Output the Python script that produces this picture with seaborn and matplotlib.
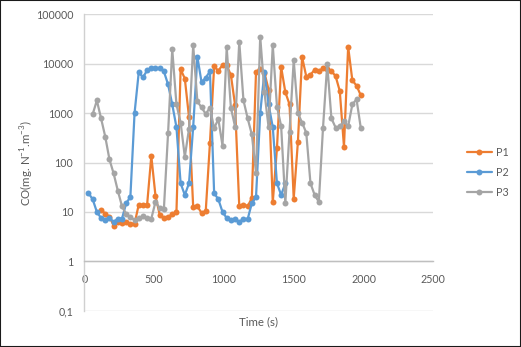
import matplotlib
matplotlib.use("Agg")
import matplotlib.pyplot as plt
import seaborn as sns
from matplotlib.patches import Rectangle

# Sampling times (s) and CO concentration for each probe
p1_time = [120, 150, 180, 210, 240, 270, 300, 330, 360, 390, 420, 450, 480, 510,
           540, 570, 600, 630, 660, 690, 720, 750, 780, 810, 840, 870, 900, 930,
           960, 990, 1020, 1050, 1080, 1110, 1140, 1170, 1200, 1230, 1260, 1290,
           1320, 1350, 1380, 1410, 1440, 1470, 1500, 1530, 1560, 1590, 1620, 1650,
           1680, 1710, 1740, 1770, 1800, 1830, 1860, 1890, 1920, 1950, 1980]
p1_co = [11, 9.2, 8, 5.3, 6.3, 6, 6.2, 5.8, 5.8, 14, 13.5, 14, 135, 21,
         8.8, 7.5, 7.8, 9, 9.8, 7700, 5000, 830, 12.5, 13, 9.5, 10.5, 250, 8800,
         7200, 9400, 9200, 5900, 1460, 13, 14, 13, 19, 6800, 7900, 6600,
         3000, 15.6, 194, 8600, 2650, 1500, 18.6, 260, 13700, 5500, 6000, 7500,
         7200, 8000, 7700, 7100, 5600, 2800, 210, 22000, 4600, 3600, 2300]

p2_time = [30, 60, 90, 120, 150, 180, 210, 240, 270, 300, 330, 360, 390, 420,
           450, 480, 510, 540, 570, 600, 630, 660, 690, 720, 750, 780, 810, 840,
           870, 900, 930, 960, 990, 1020, 1050, 1080, 1110, 1140, 1170, 1200,
           1230, 1260, 1290, 1320, 1350, 1380, 1410, 1440]
p2_co = [24, 18, 10, 7.5, 6.8, 7.7, 6.2, 7.3, 7.3, 15, 20, 1000, 6700, 5300,
         7300, 8100, 8300, 8100, 7000, 3800, 1500, 520, 38, 22, 38, 530, 13700, 4200,
         5200, 7000, 24, 18, 10, 7.5, 6.8, 7.3, 6.2, 7.3, 7.1, 15,
         20, 1000, 6700, 1500, 520, 38, 22, 38]

p3_time = [60, 90, 120, 150, 180, 210, 240, 270, 300, 330, 360, 390, 420, 450,
           480, 510, 540, 570, 600, 630, 660, 690, 720, 750, 780, 810, 840, 870,
           900, 930, 960, 990, 1020, 1050, 1080, 1110, 1140, 1170, 1200, 1230,
           1260, 1290, 1320, 1350, 1380, 1410, 1440, 1470, 1500, 1530, 1560, 1590,
           1620, 1650, 1680, 1710, 1740, 1770, 1800, 1830, 1860, 1890, 1920, 1950,
           1980]
p3_co = [950, 1800, 785, 334, 116, 60, 27, 13, 9, 7.8, 6.9, 7.4, 8.2, 7.5,
         7.3, 16, 11.8, 11.3, 390, 19600, 1500, 640, 131, 478, 23600, 1720, 1300, 960,
         1290, 490, 760, 220, 21300, 1290, 530, 28000, 1820, 785, 370, 62,
         35500, 2700, 520, 23500, 1360, 545, 15, 420, 11700, 1000, 640, 400,
         38, 22, 16, 510, 9800, 785, 510, 540, 680, 540, 1500, 1900,
         510]

series_names = ["P1", "P2", "P3"]
series_colors = ["#ED7D31", "#5B9BD5", "#A5A5A5"]

x_ticks = [0, 500, 1000, 1500, 2000, 2500]
y_ticks = [0.1, 1, 10, 100, 1000, 10000, 100000]
y_tick_labels = ["0,1", "1", "10", "100", "1000", "10000", "100000"]

sns.set_style("white")
plt.rcParams["font.family"] = ["Lato", "DejaVu Sans"]
plt.rcParams["mathtext.fontset"] = "custom"
plt.rcParams["mathtext.rm"] = "Lato"

text_color = "#595959"
font_size = 7.7

fig = plt.figure(figsize=(5.21, 3.47), dpi=100)
ax = fig.add_axes([0.1618, 0.1046, 0.6699, 0.8542])

for t, v, name, col in zip([p1_time, p2_time, p3_time], [p1_co, p2_co, p3_co],
                           series_names, series_colors):
    sns.lineplot(x=t, y=v, ax=ax, color=col, label=name, marker="o",
                 markersize=4.3, markeredgewidth=0, linewidth=1.6,
                 estimator=None, sort=False)

ax.set_yscale("log")
ax.set_ylim(0.1, 100000)
ax.set_xlim(0, 2500)
ax.set_xticks(x_ticks)
ax.set_xticklabels([str(v) for v in x_ticks])
ax.set_yticks(y_ticks)
ax.set_yticklabels(y_tick_labels)
ax.minorticks_off()

ax.grid(axis="y", color="#D9D9D9", linewidth=1.0)
ax.grid(axis="x", visible=False)
ax.set_axisbelow(True)

for side in ["top", "right"]:
    ax.spines[side].set_visible(False)
ax.spines["bottom"].set_position(("data", 1))
ax.spines["bottom"].set_color("#BFBFBF")
ax.spines["left"].set_color("#D0D0D0")
for s in ["bottom", "left"]:
    ax.spines[s].set_linewidth(1.0)

ax.tick_params(axis="both", length=0, labelsize=font_size, labelcolor=text_color)
ax.tick_params(axis="x", pad=9)
ax.tick_params(axis="y", pad=8)

ax.set_xlabel("Time (s)", fontsize=8.3, color=text_color)
ax.xaxis.label.set_va("center")
ax.xaxis.set_label_coords(0.5, -0.038)
ax.set_ylabel(r"CO(mg. N$^{\mathregular{-1}}$.m$^{\mathregular{-3}}$)",
              fontsize=8.3, color=text_color)
ax.yaxis.label.set_va("center")
ax.yaxis.set_label_coords(-0.164, 0.5)

handles, labels = ax.get_legend_handles_labels()
leg = ax.legend(handles, labels, loc="center left", bbox_to_anchor=(0.8957, 0.5035),
                bbox_transform=fig.transFigure, frameon=False, fontsize=font_size,
                handlelength=2.4, handletextpad=0.3, labelspacing=0.85,
                borderpad=0, borderaxespad=0)
for txt in leg.get_texts():
    txt.set_color(text_color)

fig.add_artist(Rectangle((0, 0), 1, 1, transform=fig.transFigure, fill=False,
                         edgecolor="#1a1a1a", linewidth=1.5))

fig.savefig("out.png", dpi=100)
